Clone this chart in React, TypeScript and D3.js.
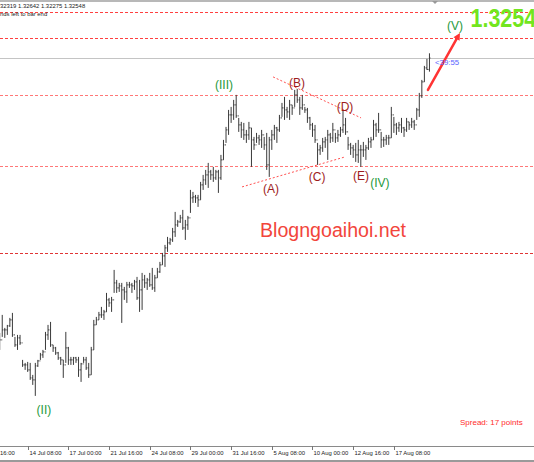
import { useRef, useEffect } from "react";
import * as d3 from "d3";

// 4H bars, oldest first
const highs = [
  1.2705, 1.2741, 1.2715, 1.2721, 1.2735, 1.2745, 1.2697, 1.2701, 1.2701, 1.2651,
  1.2645, 1.2647, 1.2645, 1.2621, 1.2645, 1.2651, 1.2665, 1.2671, 1.2707, 1.2721,
  1.2727, 1.2681, 1.2677, 1.2667, 1.2657, 1.2651, 1.2707, 1.2677, 1.2657, 1.2657,
  1.2657, 1.2657, 1.2645, 1.2657, 1.2657, 1.2645, 1.2677, 1.2731, 1.2737, 1.2747,
  1.2757, 1.2751, 1.2785, 1.2775, 1.2777, 1.2831, 1.2811, 1.2805, 1.2805, 1.2797,
  1.2807, 1.2807, 1.2805, 1.2811, 1.2817, 1.2811, 1.2825, 1.2821, 1.2815, 1.2825,
  1.2835, 1.2821, 1.2835, 1.2847, 1.2865, 1.2881, 1.2897, 1.2895, 1.2915, 1.2947,
  1.2931, 1.2941, 1.2951, 1.2931, 1.2939, 1.2991, 1.2987, 1.2981, 1.2981, 1.3007,
  1.3021, 1.3031, 1.3045, 1.3031, 1.3037, 1.3031, 1.3031, 1.3061, 1.3091, 1.3117,
  1.3151, 1.3157, 1.3171, 1.3181, 1.3135, 1.3127, 1.3125, 1.3111, 1.3127, 1.3115,
  1.3097, 1.3105, 1.3101, 1.3111, 1.3097, 1.3105, 1.3097, 1.3111, 1.3121, 1.3117,
  1.3141, 1.3165, 1.3177, 1.3157, 1.3171, 1.3161, 1.3191, 1.3193, 1.3177, 1.3181,
  1.3157, 1.3155, 1.3137, 1.3125, 1.3121, 1.3085, 1.3081, 1.3095, 1.3097, 1.3111,
  1.3105, 1.3125, 1.3105, 1.3111, 1.3117, 1.3151, 1.3135, 1.3097, 1.3085, 1.3081,
  1.3085, 1.3091, 1.3081, 1.3087, 1.3081, 1.3095, 1.3097, 1.3131, 1.3125, 1.3145,
  1.3107, 1.3097, 1.3101, 1.3101, 1.3157, 1.3137, 1.3125, 1.3127, 1.3135, 1.3117,
  1.3135, 1.3127, 1.3135, 1.3131, 1.3155, 1.3185, 1.3211, 1.3239, 1.3253, 1.32642,
];
const lows = [
  1.2671, 1.2697, 1.2695, 1.2701, 1.2717, 1.2697, 1.2677, 1.2671, 1.2681, 1.2637,
  1.2631, 1.2627, 1.2611, 1.2601, 1.2579, 1.2637, 1.2651, 1.2655, 1.2671, 1.2691,
  1.2677, 1.2667, 1.2661, 1.2651, 1.2641, 1.2615, 1.2645, 1.2641, 1.2641, 1.2641,
  1.2645, 1.2617, 1.2607, 1.2645, 1.2631, 1.2615, 1.2621, 1.2671, 1.2721, 1.2731,
  1.2735, 1.2731, 1.2747, 1.2757, 1.2747, 1.2785, 1.2785, 1.2787, 1.2725, 1.2771,
  1.2765, 1.2795, 1.2785, 1.2791, 1.2771, 1.2747, 1.2751, 1.2795, 1.2791, 1.2797,
  1.2791, 1.2787, 1.2815, 1.2825, 1.2841, 1.2837, 1.2867, 1.2881, 1.2887, 1.2897,
  1.2917, 1.2925, 1.2911, 1.2891, 1.2911, 1.2945, 1.2965, 1.2965, 1.2957, 1.2971,
  1.2991, 1.3001, 1.2995, 1.3011, 1.3007, 1.3011, 1.2985, 1.3011, 1.3051, 1.3085,
  1.3101, 1.3125, 1.3131, 1.3135, 1.3107, 1.3095, 1.3091, 1.3085, 1.3091, 1.3037,
  1.3071, 1.3085, 1.3081, 1.3075, 1.3071, 1.3031, 1.3017, 1.3071, 1.3091, 1.3085,
  1.3107, 1.3137, 1.3131, 1.3135, 1.3131, 1.3141, 1.3157, 1.3165, 1.3141, 1.3151,
  1.3145, 1.3125, 1.3111, 1.3097, 1.3085, 1.3041, 1.3061, 1.3067, 1.3075, 1.3051,
  1.3085, 1.3087, 1.3085, 1.3087, 1.3097, 1.3105, 1.3101, 1.3071, 1.3061, 1.3055,
  1.3047, 1.3045, 1.3037, 1.3057, 1.3051, 1.3071, 1.3075, 1.3091, 1.3097, 1.3105,
  1.3075, 1.3077, 1.3081, 1.3081, 1.3095, 1.3105, 1.3101, 1.3107, 1.3105, 1.3097,
  1.3107, 1.3111, 1.3115, 1.3111, 1.3131, 1.3137, 1.3175, 1.3207, 1.3231, 1.32275,
];
const closes = [
  1.2691, 1.2711, 1.2711, 1.2719, 1.2731, 1.2701, 1.2681, 1.2695, 1.2685, 1.2641,
  1.2641, 1.2631, 1.2615, 1.2611, 1.2639, 1.2649, 1.2661, 1.2667, 1.2701, 1.2711,
  1.2681, 1.2675, 1.2665, 1.2655, 1.2651, 1.2641, 1.2675, 1.2651, 1.2651, 1.2655,
  1.2651, 1.2631, 1.2643, 1.2651, 1.2635, 1.2621, 1.2671, 1.2721, 1.2731, 1.2741,
  1.2741, 1.2747, 1.2771, 1.2765, 1.2771, 1.2805, 1.2795, 1.2799, 1.2791, 1.2787,
  1.2801, 1.2801, 1.2799, 1.2807, 1.2775, 1.2791, 1.2811, 1.2805, 1.2811, 1.2801,
  1.2795, 1.2815, 1.2827, 1.2841, 1.2859, 1.2875, 1.2885, 1.2891, 1.2907, 1.2921,
  1.2927, 1.2935, 1.2915, 1.2921, 1.2935, 1.2975, 1.2977, 1.2975, 1.2971, 1.3001,
  1.3011, 1.3021, 1.3027, 1.3021, 1.3015, 1.3027, 1.3015, 1.3051, 1.3081, 1.3111,
  1.3141, 1.3141, 1.3161, 1.3139, 1.3121, 1.3111, 1.3101, 1.3101, 1.3115, 1.3091,
  1.3081, 1.3095, 1.3091, 1.3101, 1.3081, 1.3041, 1.3091, 1.3101, 1.3115, 1.3111,
  1.3135, 1.3155, 1.3151, 1.3147, 1.3161, 1.3155, 1.3181, 1.3171, 1.3155, 1.3161,
  1.3151, 1.3135, 1.3121, 1.3111, 1.3091, 1.3071, 1.3075, 1.3087, 1.3091, 1.3101,
  1.3095, 1.3111, 1.3095, 1.3101, 1.3111, 1.3121, 1.3107, 1.3081, 1.3075, 1.3071,
  1.3061, 1.3071, 1.3071, 1.3071, 1.3075, 1.3087, 1.3091, 1.3121, 1.3111, 1.3111,
  1.3091, 1.3091, 1.3095, 1.3095, 1.3141, 1.3121, 1.3115, 1.3121, 1.3115, 1.3111,
  1.3127, 1.3121, 1.3127, 1.3121, 1.3151, 1.3179, 1.3207, 1.3235, 1.32319, 1.32548,
];
const firstOpen = 1.27;

const tickBars = [-5, 11, 27, 43, 59, 75, 91, 107, 123, 139, 155];
const tickLabels = [
  "16:00", "14 Jul 08:00", "17 Jul 00:00", "21 Jul 16:00", "24 Jul 08:00",
  "29 Jul 00:00", "31 Jul 16:00", "5 Aug 08:00", "10 Aug 00:00",
  "12 Aug 16:00", "17 Aug 08:00",
];

const levels = [1.3347, 1.3295, 1.318, 1.3038, 1.2865];
const levelColors = ["#ff4040", "#ff4040", "#ff7878", "#ff7878", "#e03535"];

// triangle trend lines [bar, price, bar, price]
const trendLines = [
  [107.5, 1.3217, 142.1, 1.3135],
  [95.3, 1.2997, 135.8, 1.3057],
];

const waveText = ["(II)", "(III)", "(A)", "(B)", "(C)", "(D)", "(E)", "(IV)", "(V)"];
const waveBar = [17.4, 88.2, 106.7, 116.9, 124.8, 135.8, 142.1, 149.5, 179];
const wavePrice = [1.2543, 1.3193, 1.2985, 1.3197, 1.3009, 1.3149, 1.3011, 1.2997, 1.3311];
const waveGreen = [true, true, false, false, false, false, false, true, true];

const arrowFrom = [168.4, 1.3191];
const arrowTo = [181, 1.3305];

const FONT = "'Liberation Sans', Arial, sans-serif";

export default function App() {
  const svgRef = useRef<SVGSVGElement>(null);

  useEffect(() => {
    if (!svgRef.current) return;
    const svg = d3.select(svgRef.current);
    svg.selectAll("*").remove();

    const W = 534;
    const H = 462;
    const n = highs.length;
    const x = d3.scaleLinear().domain([0, n - 1]).range([-0.3, -0.3 + 2.543 * (n - 1)]);
    const y = d3.scaleLinear().domain([1.25, 1.33708]).range([435.4, 0]);
    const last = closes[n - 1];

    svg.append("rect").attr("width", W).attr("height", H).attr("fill", "#ffffff");

    // top border + shift marker
    svg.append("line").attr("x1", 0).attr("x2", W).attr("y1", 1).attr("y2", 1)
      .attr("stroke", "#b8b8b8").attr("stroke-width", 2);
    svg.append("path").attr("d", "M432,1 L438,1 L435,4 Z").attr("fill", "#9a9a9a");

    // horizontal levels
    levels.forEach((p, i) => {
      svg.append("line")
        .attr("x1", 0).attr("x2", W)
        .attr("y1", Math.round(y(p)) + 0.5).attr("y2", Math.round(y(p)) + 0.5)
        .attr("stroke", levelColors[i])
        .attr("stroke-width", 1)
        .attr("stroke-dasharray", "3 2");
    });

    // current price line
    svg.append("line")
      .attr("x1", 0).attr("x2", W)
      .attr("y1", Math.round(y(last)) + 0.5).attr("y2", Math.round(y(last)) + 0.5)
      .attr("stroke", "#c4c4c4");

    // trend lines
    trendLines.forEach(([b1, p1, b2, p2]) => {
      svg.append("line")
        .attr("x1", x(b1)).attr("y1", y(p1))
        .attr("x2", x(b2)).attr("y2", y(p2))
        .attr("stroke", "#ff5050")
        .attr("stroke-width", 1)
        .attr("stroke-dasharray", "2 2");
    });

    // OHLC bars
    const g = svg.append("g").attr("stroke", "#3a3a3a").attr("stroke-width", 1);
    for (let i = 0; i < n; i++) {
      const cx = x(i);
      const open = i === 0 ? firstOpen : closes[i - 1];
      g.append("line").attr("x1", cx).attr("x2", cx)
        .attr("y1", y(highs[i])).attr("y2", y(lows[i]));
      g.append("line").attr("x1", cx - 1).attr("x2", cx)
        .attr("y1", y(open)).attr("y2", y(open));
      g.append("line").attr("x1", cx).attr("x2", cx + 1)
        .attr("y1", y(closes[i])).attr("y2", y(closes[i]));
    }

    // wave labels
    waveText.forEach((t, i) => {
      svg.append("text")
        .attr("x", x(waveBar[i]))
        .attr("y", y(wavePrice[i]))
        .attr("text-anchor", "middle")
        .attr("font-family", FONT)
        .attr("font-size", 12)
        .attr("fill", waveGreen[i] ? "#1f9a3c" : "#9e1b1b")
        .text(t);
    });

    // arrow
    const ax1 = x(arrowFrom[0]), ay1 = y(arrowFrom[1]);
    const ax2 = x(arrowTo[0]), ay2 = y(arrowTo[1]);
    const ang = Math.atan2(ay2 - ay1, ax2 - ax1);
    svg.append("line")
      .attr("x1", ax1).attr("y1", ay1).attr("x2", ax2 - 4 * Math.cos(ang)).attr("y2", ay2 - 4 * Math.sin(ang))
      .attr("stroke", "#ff3434").attr("stroke-width", 2.5).attr("stroke-linecap", "round");
    const hl = 7, hw = 3.5;
    const bx = ax2 - hl * Math.cos(ang), by = ay2 - hl * Math.sin(ang);
    svg.append("path")
      .attr("d", `M${ax2},${ay2} L${bx - hw * Math.sin(ang)},${by + hw * Math.cos(ang)} L${bx + hw * Math.sin(ang)},${by - hw * Math.cos(ang)} Z`)
      .attr("fill", "#ff3434");

    // big price (cut at the right edge, as in the terminal)
    svg.append("text")
      .attr("transform", "translate(470.5,27) scale(0.86,1)")
      .attr("font-family", FONT).attr("font-weight", "bold").attr("font-size", 25)
      .attr("fill", "#72e61e")
      .text((Math.floor(last * 1e4) / 1e4).toFixed(4));

    // countdown
    svg.append("text")
      .attr("x", 435).attr("y", 65)
      .attr("font-family", FONT).attr("font-size", 7.8)
      .attr("fill", "#5a64ff")
      .text("<39:55");

    // header
    svg.append("text")
      .attr("x", 0).attr("y", 8)
      .attr("font-family", FONT).attr("font-size", 5.9).attr("fill", "#222")
      .text(`32319 ${highs[n - 1].toFixed(5)} ${lows[n - 1].toFixed(5)} ${last.toFixed(5)}`);
    svg.append("text")
      .attr("x", 0).attr("y", 15.5)
      .attr("font-family", FONT).attr("font-size", 5.9).attr("fill", "#222")
      .text("nds left to bar end");

    // watermark
    svg.append("text")
      .attr("x", 260).attr("y", 237)
      .attr("font-family", FONT).attr("font-size", 19.6)
      .attr("fill", "#f2453b")
      .text("Blogngoaihoi.net");

    // spread
    svg.append("text")
      .attr("x", 460).attr("y", 425)
      .attr("font-family", FONT).attr("font-size", 8)
      .attr("fill", "#ff2b2b")
      .text("Spread: 17 points");

    // time axis
    svg.append("line").attr("x1", 0).attr("x2", W).attr("y1", 446.5).attr("y2", 446.5)
      .attr("stroke", "#8a8a8a");
    svg.append("rect").attr("x", 0).attr("y", 460).attr("width", W).attr("height", 2)
      .attr("fill", "#9a9a9a");
    tickBars.forEach((b, i) => {
      const tx = Math.round(x(b)) + 0.5;
      svg.append("line").attr("x1", tx).attr("x2", tx).attr("y1", 446).attr("y2", 450)
        .attr("stroke", "#777");
      svg.append("text")
        .attr("x", Math.max(0, tx + 1)).attr("y", 455)
        .attr("font-family", FONT).attr("font-size", 5.9).attr("fill", "#222")
        .text(tickLabels[i]);
    });
  }, []);

  return (
    <svg
      ref={svgRef}
      width={534}
      height={462}
      style={{ position: "absolute", left: 0, top: 0, display: "block" }}
    />
  );
}
